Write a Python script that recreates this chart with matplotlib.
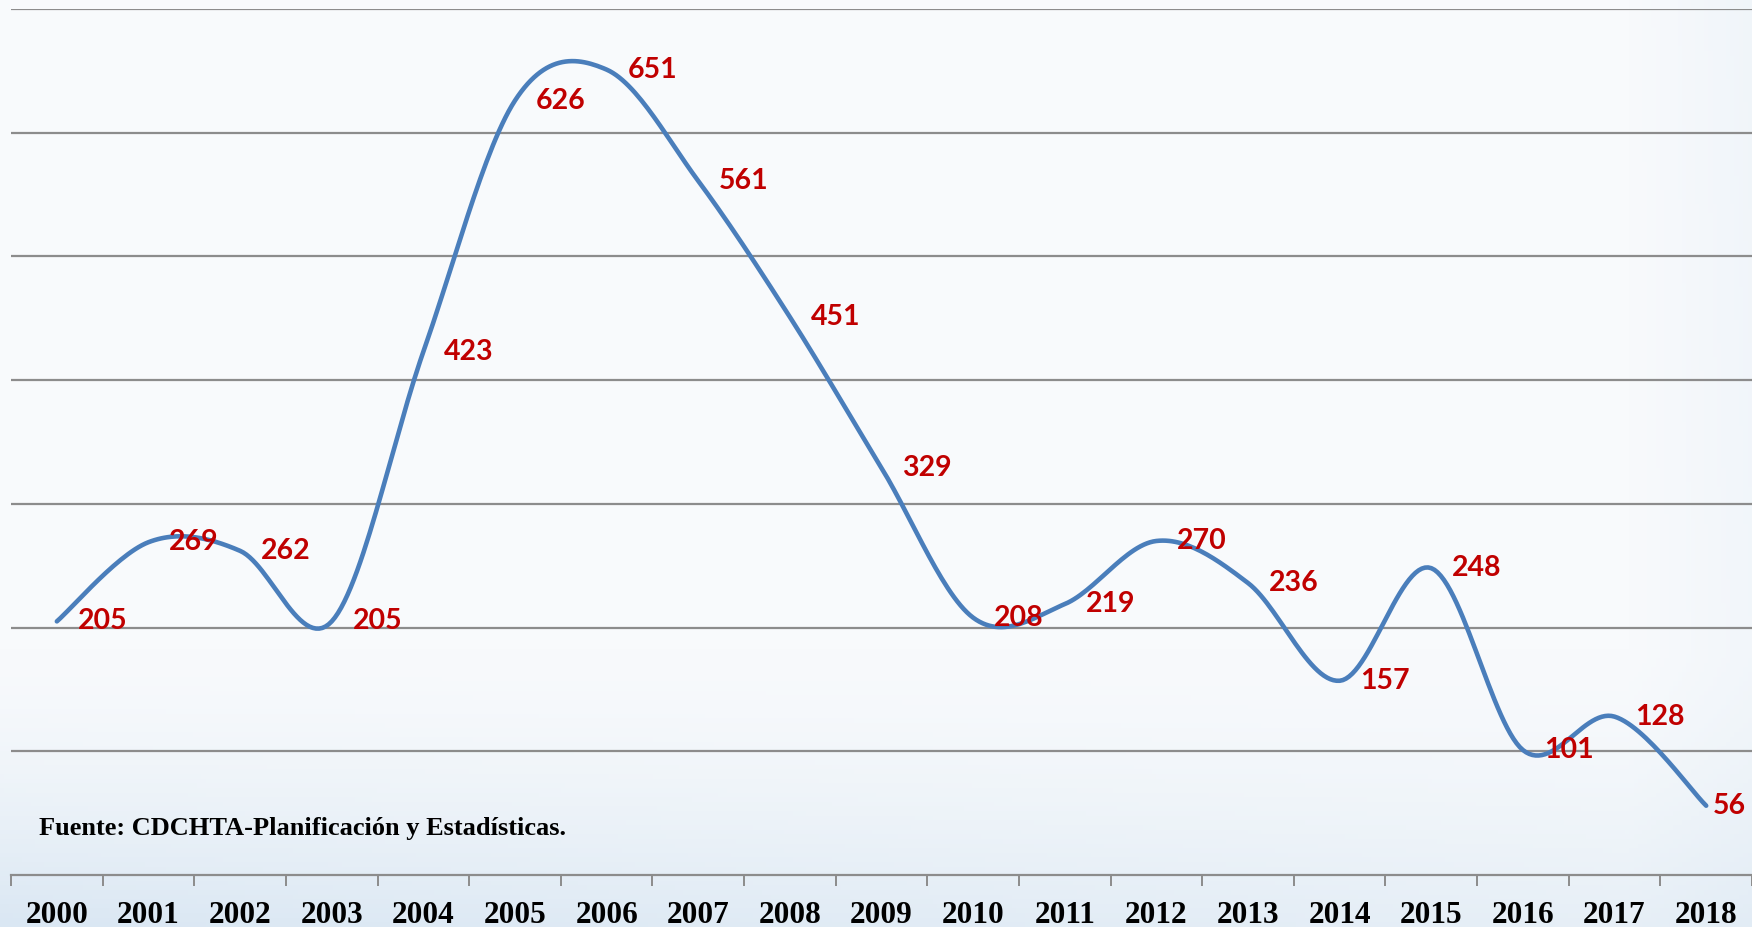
import matplotlib
matplotlib.use("Agg")
import matplotlib.pyplot as plt
import numpy as np
from matplotlib.colors import to_rgb

years = [str(y) for y in range(2000, 2019)]
values = [205, 269, 262, 205, 423, 626, 651, 561, 451, 329,
          208, 219, 270, 236, 157, 248, 101, 128, 56]
source = "Fuente: CDCHTA-Planificación y Estadísticas."


def smooth(x, y, n=30):
    # Catmull-Rom style smoothing, like Excel's smoothed line
    x = np.asarray(x, float)
    y = np.asarray(y, float)
    px = np.concatenate([[x[0]], x, [x[-1]]])
    py = np.concatenate([[y[0]], y, [y[-1]]])
    t = np.linspace(0, 1, n)[:, None]
    xs, ys = [], []
    for i in range(1, len(px) - 2):
        p0, p1, p2, p3 = px[i - 1], px[i], px[i + 1], px[i + 2]
        q0, q1, q2, q3 = py[i - 1], py[i], py[i + 1], py[i + 2]
        c1x, c2x = p1 + (p2 - p0) / 6, p2 - (p3 - p1) / 6
        c1y, c2y = q1 + (q2 - q0) / 6, q2 - (q3 - q1) / 6
        b = [(1 - t) ** 3, 3 * (1 - t) ** 2 * t, 3 * (1 - t) * t ** 2, t ** 3]
        xs.append((b[0] * p1 + b[1] * c1x + b[2] * c2x + b[3] * p2).ravel())
        ys.append((b[0] * q1 + b[1] * c1y + b[2] * c2y + b[3] * q2).ravel())
    return np.concatenate(xs), np.concatenate(ys)


fig = plt.figure(figsize=(17.52, 9.27), dpi=100)

# soft blue background gradient
bg = fig.add_axes([0, 0, 1, 1], zorder=-10)
h, w = 200, 400
yy = np.linspace(0, 1, h)[:, None]
xx = np.linspace(0, 1, w)[None, :]
top = np.array(to_rgb("#F8FAFC"))
low = np.array(to_rgb("#DAE7F3"))
k = np.clip((yy - 0.70) / 0.30, 0, 1) ** 1.5 * (1 - 0.45 * xx)
k = np.clip(k + 0.25 * np.clip((xx - 0.93) / 0.07, 0, 1) * (1 - yy * 0.3), 0, 1)
img = top[None, None, :] * (1 - k[..., None]) + low[None, None, :] * k[..., None]
bg.imshow(img, aspect="auto", extent=[0, 1, 0, 1])
bg.axis("off")

ax = fig.add_axes([0.0063, 0.0561, 0.9937, 0.9342])
ax.patch.set_alpha(0)

x = np.arange(len(years))
sx, sy = smooth(x, values)
ax.plot(sx, sy, color="#4A7EBB", lw=3.3, solid_capstyle="round", zorder=3)

for i, (xi, v) in enumerate(zip(x, values)):
    # last label is pulled in so it stays inside the frame
    dx = 5 if i == len(values) - 1 else 15
    ax.annotate(str(v), (xi, v), xytext=(dx, 0), textcoords="offset points",
                ha="left", va="center", color="#C00000", fontsize=20.5,
                fontweight="bold", family="Lato", zorder=4)

ax.set_xlim(-0.5, len(years) - 0.5)
ax.set_ylim(0, 700)
ax.set_yticks(np.arange(100, 701, 100))
ax.yaxis.grid(True, color="#8C8C8C", lw=1.6)
ax.set_axisbelow(True)
ax.tick_params(axis="y", left=False, labelleft=False)

ax.set_xticks(np.arange(-0.5, len(years), 1.0))
ax.set_xticklabels([])
ax.set_xticks(x, minor=True)
ax.set_xticklabels(years, minor=True, fontsize=22.5, fontweight="bold",
                   family="Liberation Serif")
ax.tick_params(axis="x", which="major", length=8, width=1.4, color="#8C8C8C")
ax.tick_params(axis="x", which="minor", length=0, pad=19)

for s in ["top", "left", "right"]:
    ax.spines[s].set_visible(False)
ax.spines["bottom"].set_color("#8C8C8C")
ax.spines["bottom"].set_linewidth(1.6)

fig.text(39 / 1752, 1 - 835 / 927, source, ha="left", va="baseline",
         fontsize=19, fontweight="bold", family="Liberation Serif")

fig.savefig("out.png", dpi=100)
